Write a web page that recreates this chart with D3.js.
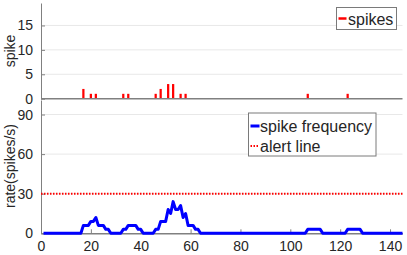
<!DOCTYPE html>
<html>
<head>
<meta charset="utf-8">
<script src="https://cdn.jsdelivr.net/npm/d3@7"></script>
<style>
  body { margin: 0; background: #fff; }
  text { font-family: "Liberation Sans", Arial, sans-serif; fill: #262626; }
</style>
</head>
<body>
<div id="chart"></div>
<script>
// spike counts per time bin
var spikeTimes = [17, 20, 22, 33, 35, 46, 48, 51, 53, 56, 58, 107, 123];
var spikeCounts = [2, 1, 1, 1, 1, 1, 2, 3, 3, 1, 1, 1, 1];

// spike frequency (spikes/s), one value per t = 1..145
var rateValues = [
    0, 0, 0, 0, 0, 0, 0, 0, 0, 0, 0, 0, 0, 0, 0, 0,
    6, 6, 6, 9, 9, 12, 6, 6, 6, 3, 3,
    0, 0, 0, 0, 0,
    3, 3, 6, 6, 6, 6, 3, 3,
    0, 0, 0, 0, 0,
    3, 3, 9, 9, 9, 18, 15, 24, 18, 18, 21, 12, 15, 6, 6, 6, 3, 3,
    0, 0, 0, 0, 0, 0, 0, 0, 0, 0, 0, 0, 0, 0, 0, 0, 0, 0, 0, 0, 0, 0, 0, 0, 0, 0, 0, 0, 0, 0, 0, 0, 0, 0, 0, 0, 0, 0, 0, 0, 0, 0, 0,
    3, 3, 3, 3, 3, 3,
    0, 0, 0, 0, 0, 0, 0, 0, 0, 0,
    3, 3, 3, 3, 3, 3,
    0, 0, 0, 0, 0, 0, 0, 0, 0, 0, 0, 0, 0, 0, 0, 0, 0
];
var alertLevel = 30;

var xTicks = [0, 20, 40, 60, 80, 100, 120, 140];
var spikeTicks = [0, 5, 10, 15];
var rateTicks = [0, 30, 60, 90];

var W = 407, H = 255;
var left = 41, right = 402.5;
var axisColor = "#808080", gridColor = "#e8e8e8";

var svg = d3.select("#chart").append("svg")
    .attr("width", W).attr("height", H);

var x = d3.scaleLinear().domain([0, 145]).range([left, right]);
var y1 = d3.scaleLinear().domain([0, 19.6]).range([98.7, 3]);
var y2 = d3.scaleLinear().domain([0, 101]).range([233.3, 100]);

// ---------- top panel: spikes ----------
var g1 = svg.append("g");

g1.selectAll(".grid1")
    .data(spikeTicks.filter(function (d) { return d > 0; }))
    .enter().append("line")
    .attr("x1", left).attr("x2", right)
    .attr("y1", function (d) { return y1(d); })
    .attr("y2", function (d) { return y1(d); })
    .attr("stroke", gridColor).attr("stroke-width", 1);

g1.selectAll(".bar")
    .data(spikeTimes)
    .enter().append("rect")
    .attr("x", function (d) { return x(d - 0.45); })
    .attr("width", function (d) { return x(d + 0.45) - x(d - 0.45); })
    .attr("y", function (d, i) { return y1(spikeCounts[i]); })
    .attr("height", function (d, i) { return y1(0) - y1(spikeCounts[i]); })
    .attr("fill", "#ff0000");

var ax1 = g1.append("g")
    .attr("transform", "translate(" + left + ",0)")
    .call(d3.axisLeft(y1).tickValues(spikeTicks).tickSizeInner(-4).tickSizeOuter(0).tickPadding(8));
ax1.select(".domain").attr("stroke", axisColor);
ax1.selectAll(".tick line").attr("stroke", axisColor);
ax1.selectAll(".tick text").style("font-size", "14px").attr("fill", "#262626");

g1.append("line")
    .attr("x1", left).attr("x2", right)
    .attr("y1", y1(0)).attr("y2", y1(0))
    .attr("stroke", axisColor).attr("stroke-width", 1.5);

g1.append("text")
    .attr("transform", "translate(15,51) rotate(-90)")
    .attr("text-anchor", "middle")
    .style("font-size", "14px")
    .text("spike");

// legend top
var lg1 = g1.append("g").attr("transform", "translate(336.5,7.5)");
lg1.append("rect").attr("width", 60).attr("height", 22)
    .attr("fill", "#fff").attr("stroke", "#7a7a7a").attr("stroke-width", 1);
lg1.append("line").attr("x1", 2).attr("x2", 10).attr("y1", 11).attr("y2", 11)
    .attr("stroke", "#ff0000").attr("stroke-width", 2.5);
lg1.append("text").attr("x", 11.5).attr("y", 17).style("font-size", "16px").text("spikes");

// ---------- bottom panel: rate ----------
var g2 = svg.append("g");

g2.selectAll(".grid2")
    .data(rateTicks.filter(function (d) { return d > 0; }))
    .enter().append("line")
    .attr("x1", left).attr("x2", right)
    .attr("y1", function (d) { return y2(d); })
    .attr("y2", function (d) { return y2(d); })
    .attr("stroke", gridColor).attr("stroke-width", 1);

var ax2 = g2.append("g")
    .attr("transform", "translate(" + left + ",0)")
    .call(d3.axisLeft(y2).tickValues(rateTicks).tickSizeInner(-4).tickSizeOuter(0).tickPadding(8));
ax2.select(".domain").attr("stroke", axisColor);
ax2.selectAll(".tick line").attr("stroke", axisColor);
ax2.selectAll(".tick text").style("font-size", "14px").attr("fill", "#262626");

var axX = g2.append("g")
    .attr("transform", "translate(0," + y2(0) + ")")
    .call(d3.axisBottom(x).tickValues(xTicks).tickSizeInner(-4).tickSizeOuter(0).tickPadding(8));
axX.select(".domain").attr("stroke", axisColor).attr("stroke-width", 1.5);
axX.selectAll(".tick line").attr("stroke", axisColor);
axX.selectAll(".tick text").style("font-size", "14px").attr("fill", "#262626");

g2.append("line")
    .attr("x1", x(0)).attr("x2", x(145))
    .attr("y1", y2(alertLevel)).attr("y2", y2(alertLevel))
    .attr("stroke", "#ff0000").attr("stroke-width", 2)
    .attr("stroke-dasharray", "1.5,1.5");

var line = d3.line()
    .x(function (d, i) { return x(i + 1); })
    .y(function (d) { return y2(d); });

g2.append("path")
    .datum(rateValues)
    .attr("d", line)
    .attr("fill", "none")
    .attr("stroke", "#0000ff")
    .attr("stroke-width", 3)
    .attr("stroke-linejoin", "round");

g2.append("text")
    .attr("transform", "translate(15,166) rotate(-90)")
    .attr("text-anchor", "middle")
    .style("font-size", "14px")
    .text("rate(spikes/s)");

// legend bottom
var lg2 = g2.append("g").attr("transform", "translate(248.5,113)");
lg2.append("rect").attr("width", 127.5).attr("height", 43)
    .attr("fill", "#fff").attr("stroke", "#7a7a7a").attr("stroke-width", 1);
lg2.append("line").attr("x1", 2).attr("x2", 11).attr("y1", 13).attr("y2", 13)
    .attr("stroke", "#0000ff").attr("stroke-width", 3);
lg2.append("text").attr("x", 11.5).attr("y", 18.7).style("font-size", "16px").text("spike frequency");
lg2.append("line").attr("x1", 2).attr("x2", 11).attr("y1", 33).attr("y2", 33)
    .attr("stroke", "#ff0000").attr("stroke-width", 2).attr("stroke-dasharray", "1.5,1.5");
lg2.append("text").attr("x", 11.5).attr("y", 38.7).style("font-size", "16px").text("alert line");
</script>
</body>
</html>
